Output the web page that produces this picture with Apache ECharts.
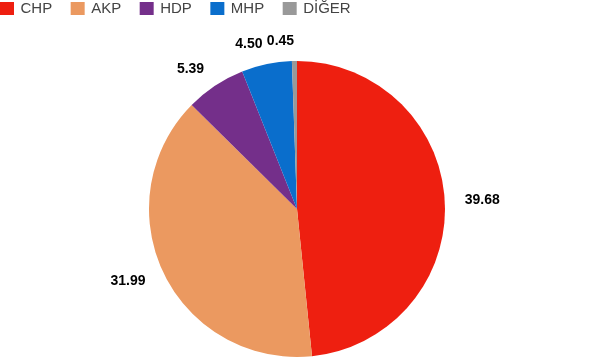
<!DOCTYPE html>
<html><head><meta charset="utf-8">
<script src="https://cdn.jsdelivr.net/npm/echarts@6/dist/echarts.min.js"></script>
<style>html,body{margin:0;padding:0;background:#fff}#c{width:592px;height:358px}</style>
</head><body><div id="c"></div>
<script>
const categories = ['CHP', 'AKP', 'HDP', 'MHP', 'DİĞER'];
const values = [39.68, 31.99, 5.39, 4.50, 0.45];
const colors = ['#EE1F10', '#EB9960', '#742F8A', '#0A6ECC', '#999999'];

const chart = echarts.init(document.getElementById('c'));
chart.setOption({
  animation: false,
  color: colors,
  legend: {
    left: 0, top: 1, padding: 0, itemWidth: 14, itemHeight: 13, itemGap: 18.5, icon: 'rect',
    textStyle: {fontFamily: 'Liberation Sans, Arial', fontSize: 15, color: '#444', padding: [0, 0, 0, 1.5]},
    data: categories
  },
  series: [{
    type: 'pie',
    center: [297, 209],
    radius: [0, 148],
    startAngle: 90,
    clockwise: true,
    avoidLabelOverlap: false,
    data: categories.map((c, i) => ({name: c, value: values[i]})),
    label: {
      show: true, position: 'outside', distanceToLabelLine: 0,
      formatter: p => p.value.toFixed(2),
      fontFamily: 'Liberation Sans, Arial', fontSize: 14, fontWeight: 'bold', color: '#000'
    },
    labelLine: {show: false, length: 20, length2: 0},
    itemStyle: {borderWidth: 0}
  }]
});
</script></body></html>
